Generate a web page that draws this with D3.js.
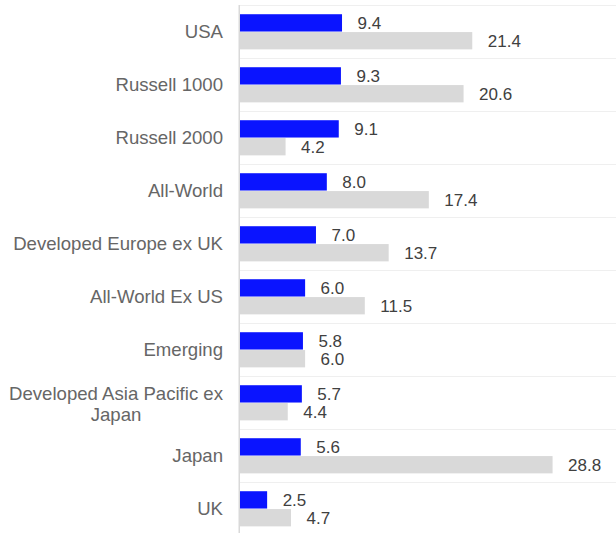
<!DOCTYPE html>
<html>
<head>
<meta charset="utf-8">
<script src="https://cdn.jsdelivr.net/npm/d3@7"></script>
<style>
  html, body { margin: 0; padding: 0; background: #ffffff; }
  svg { display: block; font-family: "Liberation Sans", Arial, sans-serif; }
</style>
</head>
<body>
<svg id="chart" width="616" height="533"></svg>
<script>
// Regions, in display order
const categories = [
  "USA", "Russell 1000", "Russell 2000", "All-World",
  "Developed Europe ex UK", "All-World Ex US", "Emerging",
  "Developed Asia Pacific ex Japan", "Japan", "UK"
];
// First series (blue bars)
const seriesA = [9.4, 9.3, 9.1, 8.0, 7.0, 6.0, 5.8, 5.7, 5.6, 2.5];
// Second series (grey bars)
const seriesB = [21.4, 20.6, 4.2, 17.4, 13.7, 11.5, 6.0, 4.4, 28.8, 4.7];
const seriesKeys = ["a", "b"];
const seriesColors = { a: "#0a14ff", b: "#d9d9d9" };

const W = 616, H = 533;
const plotLeft = 240, plotRight = 609;
const svg = d3.select("#chart");

const x = d3.scaleLinear().domain([0, 34]).range([plotLeft, plotRight]);
const y0 = d3.scaleBand().domain(categories).range([5.3, 535.3]).padding(0);
const y1 = d3.scaleBand().domain(seriesKeys).range([0, y0.bandwidth()])
  .paddingInner(0.03).paddingOuter(0.5);

const rows = categories.map((c, i) => ({ cat: c, a: seriesA[i], b: seriesB[i] }));

// Horizontal separators between categories
svg.append("g").selectAll("line")
  .data(categories)
  .join("line")
  .attr("x1", plotLeft).attr("x2", W)
  .attr("y1", d => Math.round(y0(d)) + 0.5)
  .attr("y2", d => Math.round(y0(d)) + 0.5)
  .attr("stroke", "#efefef").attr("stroke-width", 1);

// Bars
const groups = svg.append("g").selectAll("g")
  .data(rows)
  .join("g")
  .attr("transform", d => `translate(0,${y0(d.cat)})`);

groups.selectAll("rect")
  .data(d => seriesKeys.map(k => ({ key: k, value: d[k] })))
  .join("rect")
  .attr("x", x(0))
  .attr("y", d => y1(d.key))
  .attr("width", d => x(d.value) - x(0))
  .attr("height", y1.bandwidth())
  .attr("fill", d => seriesColors[d.key]);

// Value labels
groups.selectAll("text")
  .data(d => seriesKeys.map(k => ({ key: k, value: d[k] })))
  .join("text")
  .attr("x", d => x(d.value) + 15.5)
  .attr("y", d => y1(d.key) + y1.bandwidth() / 2)
  .attr("dy", "0.35em")
  .attr("font-size", "17px")
  .attr("fill", "#404040")
  .text(d => d3.format(".1f")(d.value));

// Category axis line
svg.append("line")
  .attr("x1", plotLeft - 0.75).attr("x2", plotLeft - 0.75)
  .attr("y1", 5).attr("y2", H)
  .attr("stroke", "#d9d9d9").attr("stroke-width", 1.5);

// Category labels, wrapped when wider than the label column
const labelRight = 223, maxLabelWidth = 218, lineHeight = 21.7;
const labelG = svg.append("g").attr("font-size", "18.6px").attr("fill", "#666666");

categories.forEach(cat => {
  const cy = y0(cat) + y0.bandwidth() / 2;
  const probe = labelG.append("text").text(cat);
  const fullW = probe.node().getComputedTextLength();
  if (fullW <= maxLabelWidth) {
    probe.attr("x", labelRight).attr("y", cy).attr("dy", "0.35em")
      .attr("text-anchor", "end");
    return;
  }
  // greedy word wrap
  const words = cat.split(" ");
  const lines = [];
  let cur = [];
  words.forEach(w => {
    const trial = cur.concat([w]).join(" ");
    probe.text(trial);
    if (probe.node().getComputedTextLength() > maxLabelWidth && cur.length) {
      lines.push(cur.join(" "));
      cur = [w];
    } else {
      cur.push(w);
    }
  });
  if (cur.length) lines.push(cur.join(" "));
  const widths = lines.map(l => { probe.text(l); return probe.node().getComputedTextLength(); });
  const blockW = d3.max(widths);
  probe.remove();
  const cx = labelRight - blockW / 2;
  const top = cy - (lines.length - 1) * lineHeight / 2 + 1.2;
  lines.forEach((l, i) => {
    labelG.append("text")
      .attr("x", cx).attr("y", top + i * lineHeight).attr("dy", "0.35em")
      .attr("text-anchor", "middle")
      .text(l);
  });
});
</script>
</body>
</html>
